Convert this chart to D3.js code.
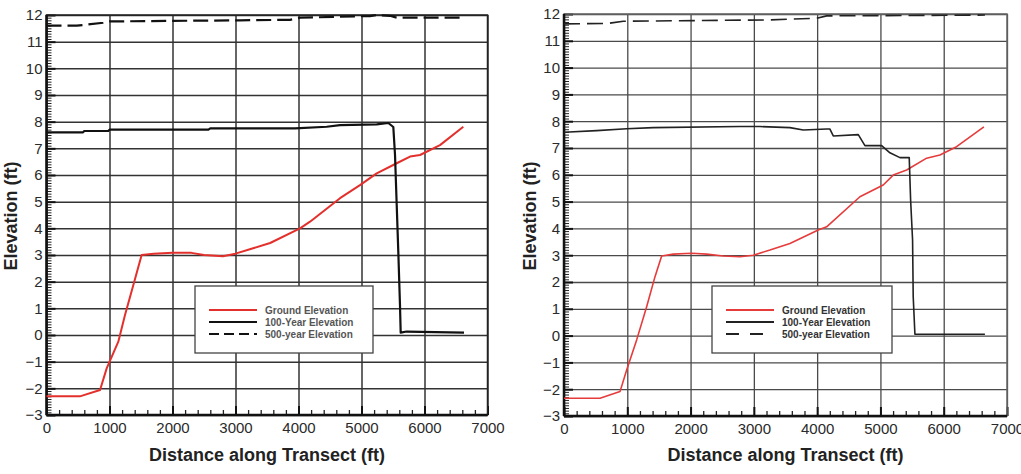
<!DOCTYPE html>
<html>
<head>
<meta charset="utf-8">
<title>Elevation along Transect</title>
<script src="https://d3js.org/d3.v7.min.js"></script>
<style>
  body { margin: 0; background: #fff; }
  svg { display: block; font-family: "Liberation Sans", Arial, sans-serif; }
</style>
</head>
<body>
<div id="container"></div>
<script>

// ---- data (distance ft, elevation ft) ----
const xTicks = [0, 1000, 2000, 3000, 4000, 5000, 6000, 7000];
const yTicks = [-3, -2, -1, 0, 1, 2, 3, 4, 5, 6, 7, 8, 9, 10, 11, 12];
const legendNames = ["Ground Elevation", "100-Year Elevation", "500-year Elevation"];

const leftGround = [[0,-2.3],[530,-2.3],[850,-2.06],[955,-1.25],[1140,-0.25],[1246,0.75],[1405,2.1],[1510,3.0],
  [1700,3.05],[2000,3.08],[2300,3.08],[2500,3.0],[2800,2.95],[3000,3.05],[3550,3.45],[4024,4.0],[4183,4.25],
  [4659,5.13],[4976,5.62],[5241,6.06],[5559,6.44],[5770,6.69],[5929,6.75],[6246,7.12],[6616,7.81]];
const left100 = [[0,7.6],[580,7.6],[600,7.65],[980,7.65],[1000,7.7],[2570,7.7],[2600,7.75],[3944,7.75],
  [4447,7.81],[4659,7.87],[5241,7.9],[5426,7.95],[5505,7.8],[5532,6.75],[5559,4.87],[5585,3.06],[5611,1.12],
  [5622,0.09],[5717,0.13],[6627,0.09]];
const left500 = [[0,11.6],[480,11.6],[900,11.71],[1000,11.76],[3070,11.8],[3865,11.82],[4024,11.9],
  [5135,11.96],[5241,12.0],[5452,11.97],[5559,11.9],[6563,11.9]];

const rightGround = [[0,-2.34],[569,-2.34],[885,-2.09],[990,-1.28],[1148,-0.16],[1306,1.08],[1438,2.2],[1543,2.97],
  [1727,3.04],[2017,3.07],[2254,3.04],[2517,2.97],[2780,2.94],[2991,3.0],[3254,3.19],[3570,3.44],[4017,3.94],
  [4150,4.06],[4676,5.18],[5044,5.62],[5202,5.99],[5414,6.18],[5730,6.62],[5940,6.74],[6203,7.05],[6635,7.79]];
const right100 = [[0,7.59],[516,7.65],[990,7.72],[1411,7.76],[2780,7.8],[3096,7.8],[3570,7.76],[3781,7.67],
  [4150,7.71],[4200,7.71],[4255,7.45],[4650,7.5],[4755,7.09],[5019,7.09],[5150,6.82],[5308,6.64],[5455,6.64],
  [5477,5.06],[5508,3.57],[5518,1.45],[5545,0.05],[6651,0.05]];
const right500 = [[0,11.63],[700,11.65],[937,11.73],[3254,11.78],[3992,11.84],[4150,11.93],[6651,11.96]];

const width = 1021, height = 474;

const svg = d3.select("#container").append("svg")
  .attr("width", width)
  .attr("height", height);

const panels = [
  { x0: 46.5, x1: 487.5, yTop: 15, yBot: 415, titleX: 17, legend: [195, 286, 178, 67],
    grid: "#333", gridW: 1.5, frame: "#222", red: "#e3302c", redW: 2, blk: "#111", blkW: 2.2,
    dash: "15,6", legDash: "10,5", legText: "#555",
    series: [leftGround, left100, left500] },
  { x0: 564, x1: 1007, yTop: 14, yBot: 416, titleX: 536, legend: [712, 286, 180, 67],
    grid: "#4a4a4a", gridW: 1.3, frame: "#666", red: "#e63b3b", redW: 1.6, blk: "#222", blkW: 1.6,
    dash: "16,7", legDash: "13,11", legText: "#333",
    series: [rightGround, right100, right500] }
];

panels.forEach(function(p) {
  const x = d3.scaleLinear().domain([0, 7000]).range([p.x0, p.x1]);
  const y = d3.scaleLinear().domain([-3, 12]).range([p.yBot, p.yTop]);
  const g = svg.append("g");

  // grid lines
  g.append("g")
    .attr("transform", `translate(0, ${p.yBot})`)
    .call(d3.axisBottom(x).tickValues(xTicks).tickSize(-(p.yBot - p.yTop)).tickFormat(""))
    .call(s => s.select(".domain").remove())
    .selectAll("line").attr("stroke", p.grid).attr("stroke-width", p.gridW);
  g.append("g")
    .attr("transform", `translate(${p.x0}, 0)`)
    .call(d3.axisLeft(y).tickValues(yTicks).tickSize(-(p.x1 - p.x0)).tickFormat(""))
    .call(s => s.select(".domain").remove())
    .selectAll("line").attr("stroke", p.grid).attr("stroke-width", p.gridW);

  // minor ticks
  const xMinor = d3.range(0, 7001, 200).filter(v => v % 1000 !== 0);
  const yMinor = d3.range(-30, 121, 1).filter(v => v % 10 !== 0).map(v => v / 10);
  g.append("g")
    .attr("transform", `translate(0, ${p.yBot})`)
    .call(d3.axisBottom(x).tickValues(xMinor).tickSize(-5).tickFormat(""))
    .call(s => s.select(".domain").remove())
    .selectAll("line").attr("stroke", "#222").attr("stroke-width", 1.3);
  g.append("g")
    .attr("transform", `translate(${p.x0}, 0)`)
    .call(d3.axisLeft(y).tickValues(yMinor).tickSize(-5).tickFormat(""))
    .call(s => s.select(".domain").remove())
    .selectAll("line").attr("stroke", "#222").attr("stroke-width", 1);

  // major ticks with labels
  const xAxis = g.append("g")
    .attr("transform", `translate(0, ${p.yBot})`)
    .call(d3.axisBottom(x).tickValues(xTicks).tickSize(-9).tickPadding(7).tickFormat(d3.format("d")));
  const yAxis = g.append("g")
    .attr("transform", `translate(${p.x0}, 0)`)
    .call(d3.axisLeft(y).tickValues(yTicks).tickSize(-9).tickPadding(4).tickFormat(d3.format("d")));
  [xAxis, yAxis].forEach(function(a) {
    a.select(".domain").remove();
    a.selectAll("line").attr("stroke", "#111").attr("stroke-width", 2);
    a.selectAll("text")
      .attr("font-family", "'Liberation Sans', Arial, sans-serif")
      .attr("font-size", 15)
      .attr("fill", "#2a2a2a");
  });

  // frame
  g.append("rect")
    .attr("x", p.x0).attr("y", p.yTop)
    .attr("width", p.x1 - p.x0).attr("height", p.yBot - p.yTop)
    .attr("fill", "none").attr("stroke", p.frame).attr("stroke-width", 1.5);
  g.append("line")
    .attr("x1", p.x0).attr("x2", p.x0).attr("y1", p.yTop).attr("y2", p.yBot)
    .attr("stroke", "#111").attr("stroke-width", 2.5);
  g.append("line")
    .attr("x1", p.x0).attr("x2", p.x1).attr("y1", p.yBot).attr("y2", p.yBot)
    .attr("stroke", "#111").attr("stroke-width", 2.5);

  // series
  const line = d3.line().x(d => x(d[0])).y(d => y(d[1]));
  const styles = [
    { stroke: p.red, w: p.redW, dash: null },
    { stroke: p.blk, w: p.blkW, dash: null },
    { stroke: p.blk, w: p.blkW, dash: p.dash }
  ];
  p.series.forEach(function(s, i) {
    g.append("path")
      .datum(s)
      .attr("d", line)
      .attr("fill", "none")
      .attr("stroke", styles[i].stroke)
      .attr("stroke-width", styles[i].w)
      .attr("stroke-linejoin", "round")
      .attr("stroke-dasharray", styles[i].dash);
  });

  // legend
  const [lx, ly, lw, lh] = p.legend;
  const leg = g.append("g").attr("transform", `translate(${lx}, ${ly})`);
  leg.append("rect")
    .attr("width", lw).attr("height", lh)
    .attr("fill", "#fff").attr("stroke", "#444").attr("stroke-width", 1.3);
  legendNames.forEach(function(name, i) {
    const yy = 24 + i * 12;
    leg.append("line")
      .attr("x1", 14).attr("x2", 62).attr("y1", yy).attr("y2", yy)
      .attr("stroke", styles[i].stroke).attr("stroke-width", 2.2)
      .attr("stroke-dasharray", i === 2 ? p.legDash : null);
    leg.append("text")
      .attr("x", 70).attr("y", yy + 3.5)
      .attr("font-size", 10).attr("font-weight", "bold")
      .attr("fill", p.legText)
      .text(name);
  });

  // axis titles
  g.append("text")
    .attr("x", (p.x0 + p.x1) / 2 + 0).attr("y", 461)
    .attr("text-anchor", "middle")
    .attr("font-size", 18).attr("font-weight", "bold").attr("fill", "#222")
    .text("Distance along Transect (ft)");
  g.append("text")
    .attr("transform", `translate(${p.titleX}, 216) rotate(-90)`)
    .attr("text-anchor", "middle")
    .attr("font-size", 18).attr("font-weight", "bold").attr("fill", "#222")
    .text("Elevation (ft)");
});

</script>
</body>
</html>
